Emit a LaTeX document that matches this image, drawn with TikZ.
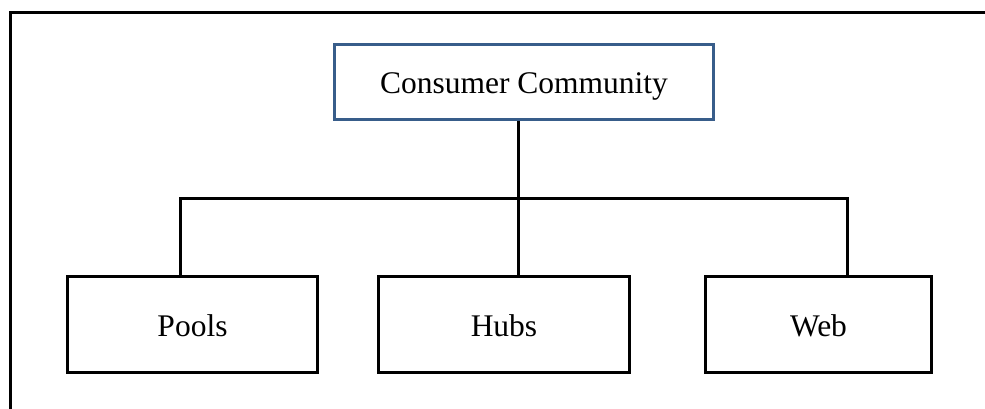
\documentclass[tikz,border=0pt]{standalone}
\usepackage{fontspec}
\setmainfont{Liberation Serif}
\definecolor{boxblue}{RGB}{56,93,138}
\begin{document}
\begin{tikzpicture}[x=1pt,y=-1pt,
  label font/.style={font=\fontsize{31.5}{36}\selectfont,text depth=0pt},
  unit/.style={draw=black,line width=3pt,minimum height=96pt,inner sep=0pt,label font},
  head/.style={draw=boxblue,line width=3pt,minimum width=379pt,minimum height=75pt,
    inner sep=0pt,label font},
  link/.style={line width=3pt}]
\useasboundingbox (0,0) rectangle (985,409);
% page frame
\draw[line width=3pt] (10.5,409) -- (10.5,12.5) -- (985,12.5);
% nodes
\node[head] (top) at (524,82) {\raisebox{-2pt}{Consumer Community}};
\node[unit,minimum width=250pt] (pools) at (192.5,324.5) {\raisebox{-2pt}{Pools}};
\node[unit,minimum width=251pt] (hubs) at (504,324.5) {\raisebox{-2pt}{Hubs}};
\node[unit,minimum width=226pt] (web) at (818.5,324.5) {\raisebox{-2pt}{Web}};
% branch points on the bar
\coordinate (j) at (518,198);
\coordinate (bl) at (180,198);
\coordinate (br) at (847,198);
% connectors
\draw[link] (top.south -| j) -- (hubs.north -| j);
\draw[link] (pools.north -| bl) -- (bl) -- (br) -- (web.north -| br);
\end{tikzpicture}
\end{document}
